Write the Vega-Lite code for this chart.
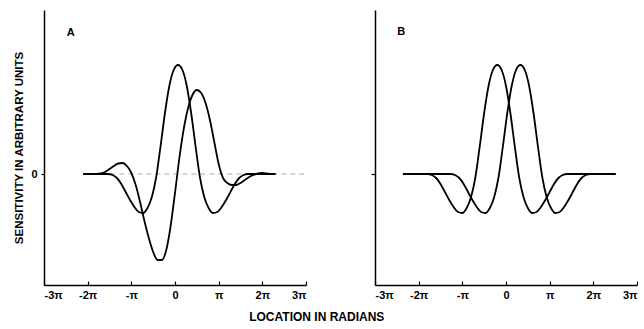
{
  "$schema": "https://vega.github.io/schema/vega-lite/v6.json",
  "background": "white",
  "padding": {"left": 13, "top": 10, "right": 0, "bottom": 5},
  "datasets": {
    "curves": [
      {"p":"A","s":"Q","x":-2.1,"y":0},{"p":"A","s":"Q","x":-1.53,"y":0},{"p":"A","s":"Q","x":-1.43,"y":-1},{"p":"A","s":"Q","x":-1.33,"y":-4},{"p":"A","s":"Q","x":-1.23,"y":-10},{"p":"A","s":"Q","x":-1.13,"y":-18},{"p":"A","s":"Q","x":-1.03,"y":-26},{"p":"A","s":"Q","x":-0.93,"y":-33},{"p":"A","s":"Q","x":-0.83,"y":-38},{"p":"A","s":"Q","x":-0.73,"y":-39},{"p":"A","s":"Q","x":-0.63,"y":-34},{"p":"A","s":"Q","x":-0.53,"y":-23},{"p":"A","s":"Q","x":-0.43,"y":-3},{"p":"A","s":"Q","x":-0.33,"y":28},{"p":"A","s":"Q","x":-0.23,"y":61},{"p":"A","s":"Q","x":-0.13,"y":88},{"p":"A","s":"Q","x":-0.03,"y":104},{"p":"A","s":"Q","x":0.07,"y":109},{"p":"A","s":"Q","x":0.17,"y":104},{"p":"A","s":"Q","x":0.27,"y":88},{"p":"A","s":"Q","x":0.37,"y":61},{"p":"A","s":"Q","x":0.47,"y":28},{"p":"A","s":"Q","x":0.57,"y":-3},{"p":"A","s":"Q","x":0.67,"y":-23},{"p":"A","s":"Q","x":0.77,"y":-34},{"p":"A","s":"Q","x":0.87,"y":-39},{"p":"A","s":"Q","x":0.97,"y":-38},{"p":"A","s":"Q","x":1.07,"y":-33},{"p":"A","s":"Q","x":1.17,"y":-26},{"p":"A","s":"Q","x":1.27,"y":-18},{"p":"A","s":"Q","x":1.37,"y":-10},{"p":"A","s":"Q","x":1.47,"y":-4},{"p":"A","s":"Q","x":1.57,"y":-1},{"p":"A","s":"Q","x":1.67,"y":0},{"p":"A","s":"Q","x":2.3,"y":0},
      {"p":"A","s":"R","x":-2.1,"y":0},{"p":"A","s":"R","x":-1.8,"y":0},{"p":"A","s":"R","x":-1.7,"y":0.5},{"p":"A","s":"R","x":-1.6,"y":2},{"p":"A","s":"R","x":-1.5,"y":5},{"p":"A","s":"R","x":-1.4,"y":8},{"p":"A","s":"R","x":-1.3,"y":10.5},{"p":"A","s":"R","x":-1.2,"y":11},{"p":"A","s":"R","x":-1.1,"y":8},{"p":"A","s":"R","x":-1.0,"y":1},{"p":"A","s":"R","x":-0.9,"y":-11},{"p":"A","s":"R","x":-0.8,"y":-28},{"p":"A","s":"R","x":-0.7,"y":-47},{"p":"A","s":"R","x":-0.6,"y":-64},{"p":"A","s":"R","x":-0.5,"y":-78},{"p":"A","s":"R","x":-0.4,"y":-86},{"p":"A","s":"R","x":-0.3,"y":-86},{"p":"A","s":"R","x":-0.2,"y":-76},{"p":"A","s":"R","x":-0.1,"y":-52},{"p":"A","s":"R","x":0.0,"y":-19},{"p":"A","s":"R","x":0.1,"y":16},{"p":"A","s":"R","x":0.2,"y":45},{"p":"A","s":"R","x":0.3,"y":66},{"p":"A","s":"R","x":0.4,"y":79},{"p":"A","s":"R","x":0.5,"y":84},{"p":"A","s":"R","x":0.6,"y":81},{"p":"A","s":"R","x":0.7,"y":71},{"p":"A","s":"R","x":0.8,"y":54},{"p":"A","s":"R","x":0.9,"y":32},{"p":"A","s":"R","x":1.0,"y":10},{"p":"A","s":"R","x":1.1,"y":-4},{"p":"A","s":"R","x":1.2,"y":-9},{"p":"A","s":"R","x":1.3,"y":-11},{"p":"A","s":"R","x":1.4,"y":-11},{"p":"A","s":"R","x":1.5,"y":-9},{"p":"A","s":"R","x":1.6,"y":-6},{"p":"A","s":"R","x":1.7,"y":-3},{"p":"A","s":"R","x":1.8,"y":-1},{"p":"A","s":"R","x":1.9,"y":0.5},{"p":"A","s":"R","x":2.0,"y":1},{"p":"A","s":"R","x":2.1,"y":0.5},{"p":"A","s":"R","x":2.2,"y":0},{"p":"A","s":"R","x":2.3,"y":0},
      {"p":"B","s":"L","x":-2.36,"y":0},{"p":"B","s":"L","x":-1.8,"y":0},{"p":"B","s":"L","x":-1.7,"y":-1},{"p":"B","s":"L","x":-1.6,"y":-4},{"p":"B","s":"L","x":-1.5,"y":-10},{"p":"B","s":"L","x":-1.4,"y":-18},{"p":"B","s":"L","x":-1.3,"y":-26},{"p":"B","s":"L","x":-1.2,"y":-33},{"p":"B","s":"L","x":-1.1,"y":-38},{"p":"B","s":"L","x":-1.0,"y":-39},{"p":"B","s":"L","x":-0.9,"y":-34},{"p":"B","s":"L","x":-0.8,"y":-23},{"p":"B","s":"L","x":-0.7,"y":-3},{"p":"B","s":"L","x":-0.6,"y":28},{"p":"B","s":"L","x":-0.5,"y":61},{"p":"B","s":"L","x":-0.4,"y":88},{"p":"B","s":"L","x":-0.3,"y":104},{"p":"B","s":"L","x":-0.2,"y":109},{"p":"B","s":"L","x":-0.1,"y":104},{"p":"B","s":"L","x":0.0,"y":88},{"p":"B","s":"L","x":0.1,"y":61},{"p":"B","s":"L","x":0.2,"y":28},{"p":"B","s":"L","x":0.3,"y":-3},{"p":"B","s":"L","x":0.4,"y":-23},{"p":"B","s":"L","x":0.5,"y":-34},{"p":"B","s":"L","x":0.6,"y":-39},{"p":"B","s":"L","x":0.7,"y":-38},{"p":"B","s":"L","x":0.8,"y":-33},{"p":"B","s":"L","x":0.9,"y":-26},{"p":"B","s":"L","x":1.0,"y":-18},{"p":"B","s":"L","x":1.1,"y":-10},{"p":"B","s":"L","x":1.2,"y":-4},{"p":"B","s":"L","x":1.3,"y":-1},{"p":"B","s":"L","x":1.4,"y":0},{"p":"B","s":"L","x":2.51,"y":0},
      {"p":"B","s":"Rt","x":-2.36,"y":0},{"p":"B","s":"Rt","x":-1.27,"y":0},{"p":"B","s":"Rt","x":-1.17,"y":-1},{"p":"B","s":"Rt","x":-1.07,"y":-4},{"p":"B","s":"Rt","x":-0.97,"y":-10},{"p":"B","s":"Rt","x":-0.87,"y":-18},{"p":"B","s":"Rt","x":-0.77,"y":-26},{"p":"B","s":"Rt","x":-0.67,"y":-33},{"p":"B","s":"Rt","x":-0.57,"y":-38},{"p":"B","s":"Rt","x":-0.47,"y":-39},{"p":"B","s":"Rt","x":-0.37,"y":-34},{"p":"B","s":"Rt","x":-0.27,"y":-23},{"p":"B","s":"Rt","x":-0.17,"y":-3},{"p":"B","s":"Rt","x":-0.07,"y":28},{"p":"B","s":"Rt","x":0.03,"y":61},{"p":"B","s":"Rt","x":0.13,"y":88},{"p":"B","s":"Rt","x":0.23,"y":104},{"p":"B","s":"Rt","x":0.33,"y":109},{"p":"B","s":"Rt","x":0.43,"y":104},{"p":"B","s":"Rt","x":0.53,"y":88},{"p":"B","s":"Rt","x":0.63,"y":61},{"p":"B","s":"Rt","x":0.73,"y":28},{"p":"B","s":"Rt","x":0.83,"y":-3},{"p":"B","s":"Rt","x":0.93,"y":-23},{"p":"B","s":"Rt","x":1.03,"y":-34},{"p":"B","s":"Rt","x":1.13,"y":-39},{"p":"B","s":"Rt","x":1.23,"y":-38},{"p":"B","s":"Rt","x":1.33,"y":-33},{"p":"B","s":"Rt","x":1.43,"y":-26},{"p":"B","s":"Rt","x":1.53,"y":-18},{"p":"B","s":"Rt","x":1.63,"y":-10},{"p":"B","s":"Rt","x":1.73,"y":-4},{"p":"B","s":"Rt","x":1.83,"y":-1},{"p":"B","s":"Rt","x":1.93,"y":0},{"p":"B","s":"Rt","x":2.51,"y":0}
    ],
    "zero": [
      {"p":"A","x":-2.1,"y":0},{"p":"A","x":3,"y":0}
    ],
    "labels": [
      {"p":"A","t":"A","x":-2.39,"y":141},
      {"p":"B","t":"B","x":-2.4,"y":142}
    ]
  },
  "title": {
    "text": "LOCATION IN RADIANS",
    "orient": "bottom",
    "anchor": "middle",
    "font": "Liberation Sans",
    "fontSize": 12,
    "fontWeight": "bold",
    "color": "black",
    "offset": 12,
    "dx": -9
  },
  "spacing": 62,
  "hconcat": [
    {
      "width": 262,
      "height": 275,
      "encoding": {
        "x": {"field": "x", "type": "quantitative", "scale": {"domain": [-3, 3], "nice": false},
          "axis": {"values": [-3, -2, -1, 0, 1, 2, 3], "title": null, "tickSize": -4, "labelPadding": 8,
            "labelExpr": "datum.value == 0 ? '0' : (datum.value < 0 ? '-' : '') + (abs(datum.value) == 1 ? '' : '' + abs(datum.value)) + 'π'"}},
        "y": {"field": "y", "type": "quantitative", "scale": {"domain": [-111, 164], "nice": false},
          "axis": {"values": [0], "tickSize": 3, "labelPadding": 4, "title": "SENSITIVITY IN ARBITRARY UNITS", "titleFontSize": 11.5, "titlePadding": 6}}
      },
      "layer": [
        {"data": {"name": "zero"}, "transform": [{"filter": "datum.p == 'A'"}],
         "mark": {"type": "line", "stroke": "#999", "strokeWidth": 0.8, "strokeDash": [5, 4]}},
        {"data": {"name": "curves"}, "transform": [{"filter": "datum.p == 'A'"}],
         "mark": {"type": "line", "stroke": "black", "strokeWidth": 1.8, "interpolate": "monotone"},
         "encoding": {"detail": {"field": "s"}}},
        {"data": {"name": "labels"}, "transform": [{"filter": "datum.p == 'A'"}],
         "mark": {"type": "text", "font": "Liberation Sans", "fontWeight": "bold", "fontSize": 11, "color": "black"},
         "encoding": {"text": {"field": "t"}}}
      ]
    },
    {
      "width": 262,
      "height": 275,
      "encoding": {
        "x": {"field": "x", "type": "quantitative", "scale": {"domain": [-3, 3], "nice": false},
          "axis": {"values": [-3, -2, -1, 0, 1, 2, 3], "title": null, "tickSize": -4, "labelPadding": 8,
            "labelExpr": "datum.value == 0 ? '0' : (datum.value < 0 ? '-' : '') + (abs(datum.value) == 1 ? '' : '' + abs(datum.value)) + 'π'"}},
        "y": {"field": "y", "type": "quantitative", "scale": {"domain": [-111, 164], "nice": false},
          "axis": {"values": [0], "tickSize": 4, "labels": false, "title": null}}
      },
      "layer": [
        {"data": {"name": "curves"}, "transform": [{"filter": "datum.p == 'B'"}],
         "mark": {"type": "line", "stroke": "black", "strokeWidth": 1.8, "interpolate": "monotone"},
         "encoding": {"detail": {"field": "s"}}},
        {"data": {"name": "labels"}, "transform": [{"filter": "datum.p == 'B'"}],
         "mark": {"type": "text", "font": "Liberation Sans", "fontWeight": "bold", "fontSize": 11, "color": "black"},
         "encoding": {"text": {"field": "t"}}}
      ]
    }
  ],
  "config": {
    "view": {"stroke": null},
    "axis": {
      "grid": false,
      "domainColor": "black",
      "domainWidth": 1.5,
      "tickColor": "black",
      "tickWidth": 1.2,
      "labelColor": "black",
      "labelFont": "Liberation Sans",
      "labelFontWeight": "bold",
      "labelFontSize": 11,
      "titleFont": "Liberation Sans",
      "titleFontWeight": "bold",
      "titleColor": "black"
    }
  }
}
